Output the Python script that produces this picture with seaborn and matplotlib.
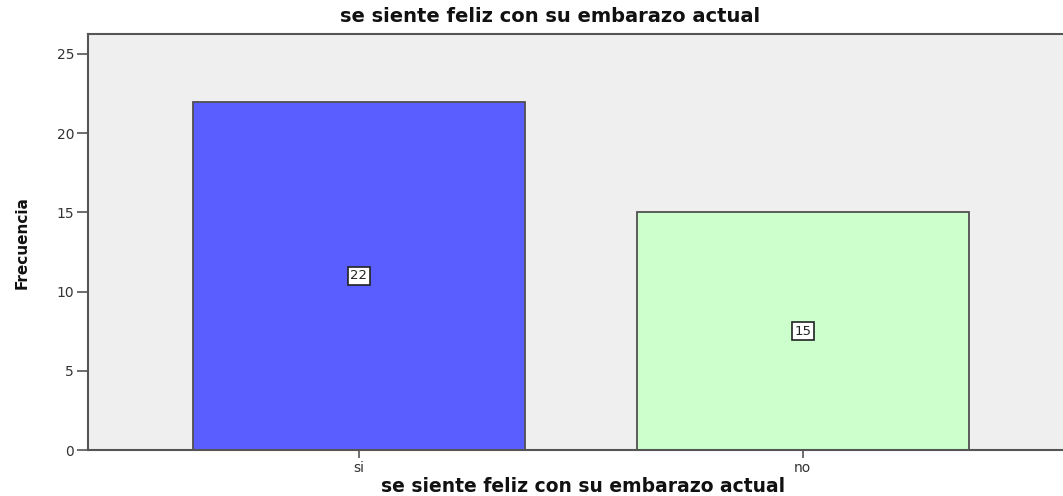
import pandas as pd
import matplotlib.pyplot as plt
import seaborn as sns

# ===============================
# DATA
# ===============================
categories = ["si", "no"]
frequencies = [22, 15]
bar_colors = ["#5B5EFF", "#CCFFCC"]
title_text = "se siente feliz con su embarazo actual"
y_ticks = [0, 5, 10, 15, 20, 25]

df = pd.DataFrame({"respuesta": categories, "frecuencia": frequencies})

sns.set_style("white")
plt.rcParams["font.family"] = ["DejaVu Sans"]

# ===============================
# FIGURE
# ===============================
fig = plt.figure(figsize=(10.63, 4.96), dpi=100)
ax = fig.add_axes([0.0828, 0.0927, 0.9172, 0.8387])
ax.set_facecolor("#EFEFEF")

sns.barplot(
    data=df,
    x="respuesta",
    y="frecuencia",
    hue="respuesta",
    palette=bar_colors,
    order=categories,
    width=0.748,
    saturation=1,
    edgecolor="#505050",
    linewidth=1.3,
    legend=False,
    ax=ax,
)

# value labels in the middle of each bar
for i, v in enumerate(frequencies):
    ax.text(
        i, v / 2, str(v),
        ha="center", va="center", fontsize=9.5, color="#222222",
        bbox=dict(boxstyle="square,pad=0.2", facecolor="white",
                  edgecolor="#222222", linewidth=1.2),
    )

ax.set_xlim(-0.61, 1.586)
ax.set_ylim(0, 26.26)
ax.set_yticks(y_ticks)
ax.set_xlabel("")
ax.set_ylabel("")

for side in ["left", "bottom", "top"]:
    ax.spines[side].set_color("#555555")
    ax.spines[side].set_linewidth(1.5)
ax.spines["right"].set_visible(False)

ax.tick_params(axis="y", direction="out", length=8, width=1.2,
               color="#555555", labelsize=10, labelcolor="#333333", pad=2)
ax.tick_params(axis="x", direction="out", length=6, width=1.2,
               color="#555555", labelsize=10, labelcolor="#333333", pad=2)
ax.tick_params(left=True, bottom=True)

fig.text(550 / 1063, 1 - 17 / 496, title_text, ha="center", va="center",
         fontsize=14, fontweight="bold", color="#111111")
fig.text(583 / 1063, 1 - 487 / 496, title_text, ha="center", va="center",
         fontsize=13.5, fontweight="bold", color="#111111")
fig.text(22 / 1063, 1 - 243 / 496, "Frecuencia", ha="center", va="center",
         rotation=90, fontsize=11, fontweight="bold", color="#111111")

plt.savefig("out.png", dpi=100)
plt.close()
